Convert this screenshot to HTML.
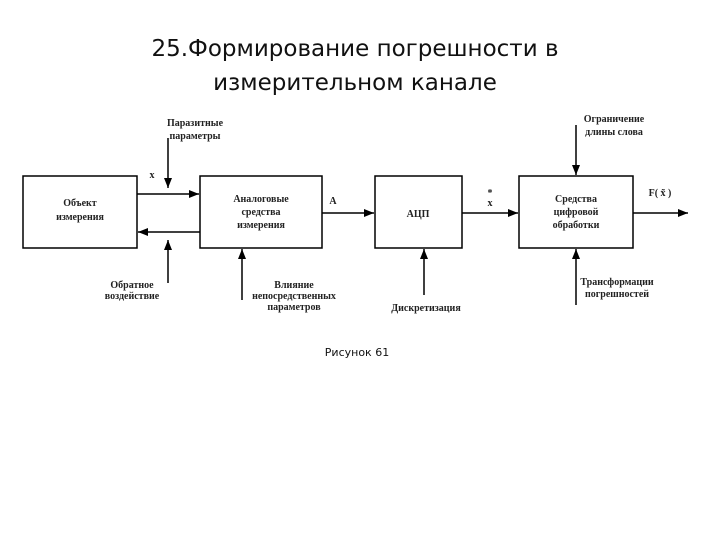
<!DOCTYPE html>
<html><head><meta charset="utf-8"><style>
body{margin:0;width:720px;height:540px;background:#fff;overflow:hidden;font-family:"DejaVu Sans","Liberation Sans",sans-serif}
.t{position:absolute;left:0;width:710px;text-align:center;font-size:23px;color:#111}
</style></head><body>
<div class="t" style="top:36px">25.Формирование погрешности в</div>
<div class="t" style="top:70px">измерительном канале</div>
<svg width="720" height="540" style="position:absolute;left:0;top:0">
<defs><marker id="a" markerWidth="10" markerHeight="8" refX="10" refY="4" orient="auto" markerUnits="userSpaceOnUse"><path d="M0,0L10,4L0,8z" fill="#000"/></marker></defs>
<g fill="none" stroke="#000" stroke-width="1.5">
<rect x="23" y="176" width="114" height="72"/>
<rect x="200" y="176" width="122" height="72"/>
<rect x="375" y="176" width="87" height="72"/>
<rect x="519" y="176" width="114" height="72"/>
</g>
<g stroke="#000" stroke-width="1.5" marker-end="url(#a)">
<line x1="137" y1="194" x2="199" y2="194"/>
<line x1="200" y1="232" x2="138" y2="232"/>
<line x1="168" y1="138" x2="168" y2="188"/>
<line x1="168" y1="283" x2="168" y2="240"/>
<line x1="242" y1="300" x2="242" y2="249"/>
<line x1="322" y1="213" x2="374" y2="213"/>
<line x1="462" y1="213" x2="518" y2="213"/>
<line x1="424" y1="295" x2="424" y2="249"/>
<line x1="576" y1="125" x2="576" y2="175"/>
<line x1="576" y1="305" x2="576" y2="249"/>
<line x1="633" y1="213" x2="688" y2="213"/>
</g>
<g font-family="Liberation Serif,serif" font-size="10" font-weight="bold" text-anchor="middle" fill="#222">
<text x="80" y="206">Объект</text><text x="80" y="220">измерения</text>
<text x="261" y="202">Аналоговые</text><text x="261" y="215">средства</text><text x="261" y="228">измерения</text>
<text x="418" y="217">АЦП</text>
<text x="576" y="202">Средства</text><text x="576" y="215">цифровой</text><text x="576" y="228">обработки</text>
<text x="195" y="126">Паразитные</text><text x="195" y="139">параметры</text>
<text x="152" y="178">x</text>
<text x="333" y="204">A</text>
<text x="490" y="206">x</text><text x="490" y="196">*</text>
<text x="660" y="196">F( x̃ )</text>
<text x="132" y="288">Обратное</text><text x="132" y="299">воздействие</text>
<text x="294" y="288">Влияние</text><text x="294" y="299">непосредственных</text><text x="294" y="310">параметров</text>
<text x="426" y="311">Дискретизация</text>
<text x="614" y="122">Ограничение</text><text x="614" y="135">длины слова</text>
<text x="617" y="285">Трансформации</text><text x="617" y="297">погрешностей</text>
</g>
<text x="357" y="356" font-size="11" text-anchor="middle" fill="#111" font-family="DejaVu Sans,sans-serif">Рисунок 61</text>
</svg>
</body></html>
